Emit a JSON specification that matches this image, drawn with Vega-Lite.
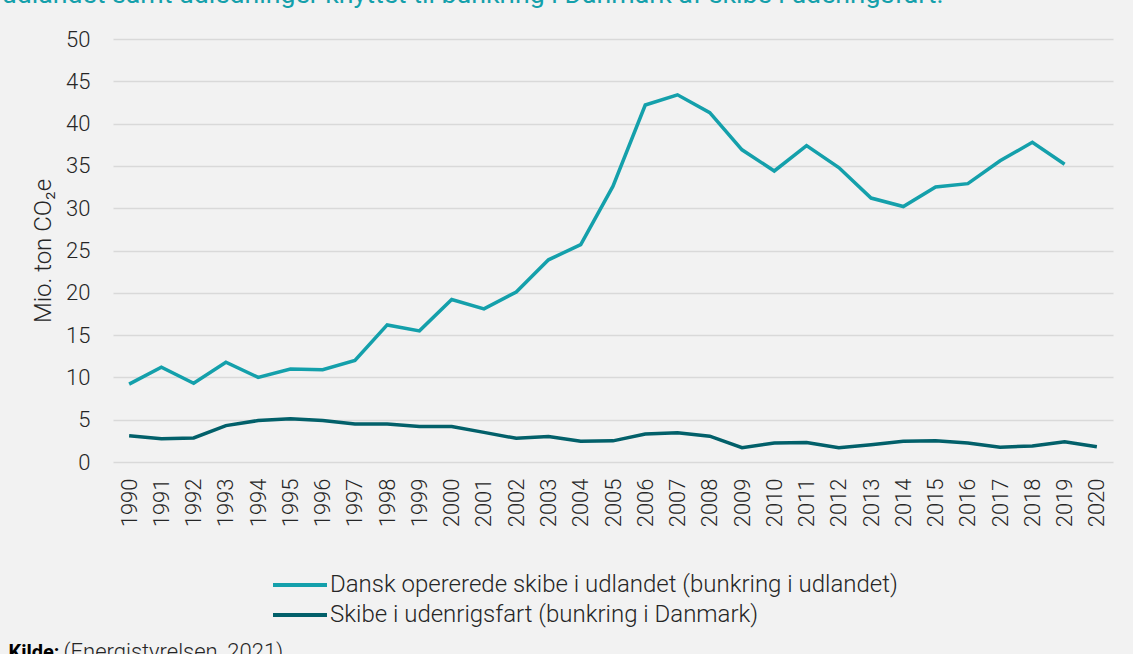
{
  "$schema": "https://vega.github.io/schema/vega-lite/v6.json",
  "width": 1000,
  "height": 423,
  "autosize": {"type": "none"},
  "padding": {"left": 113, "top": 39, "right": 20, "bottom": 192},
  "background": "#f2f2f2",
  "title": {
    "text": "udlandet samt udledninger knyttet til bunkring i Danmark af skibe i udenrigsfart.",
    "orient": "top",
    "anchor": "start",
    "frame": "group",
    "color": "#14a0ab",
    "font": "Roboto",
    "fontSize": 26.7,
    "fontWeight": 400,
    "baseline": "alphabetic",
    "offset": 0,
    "dx": -111,
    "dy": 2
  },
  "config": {
    "view": {"stroke": null},
    "axis": {"labelFont": "Roboto", "titleFont": "Roboto"},
    "legend": {"labelFont": "Roboto"}
  },
  "data": {
    "values": [
      {"year": "1990", "series": "Dansk opererede skibe i udlandet (bunkring i udlandet)", "value": 9.2},
      {"year": "1991", "series": "Dansk opererede skibe i udlandet (bunkring i udlandet)", "value": 11.2},
      {"year": "1992", "series": "Dansk opererede skibe i udlandet (bunkring i udlandet)", "value": 9.3},
      {"year": "1993", "series": "Dansk opererede skibe i udlandet (bunkring i udlandet)", "value": 11.8},
      {"year": "1994", "series": "Dansk opererede skibe i udlandet (bunkring i udlandet)", "value": 10.0},
      {"year": "1995", "series": "Dansk opererede skibe i udlandet (bunkring i udlandet)", "value": 11.0},
      {"year": "1996", "series": "Dansk opererede skibe i udlandet (bunkring i udlandet)", "value": 10.9},
      {"year": "1997", "series": "Dansk opererede skibe i udlandet (bunkring i udlandet)", "value": 12.0},
      {"year": "1998", "series": "Dansk opererede skibe i udlandet (bunkring i udlandet)", "value": 16.2},
      {"year": "1999", "series": "Dansk opererede skibe i udlandet (bunkring i udlandet)", "value": 15.5},
      {"year": "2000", "series": "Dansk opererede skibe i udlandet (bunkring i udlandet)", "value": 19.2},
      {"year": "2001", "series": "Dansk opererede skibe i udlandet (bunkring i udlandet)", "value": 18.1},
      {"year": "2002", "series": "Dansk opererede skibe i udlandet (bunkring i udlandet)", "value": 20.1},
      {"year": "2003", "series": "Dansk opererede skibe i udlandet (bunkring i udlandet)", "value": 23.9},
      {"year": "2004", "series": "Dansk opererede skibe i udlandet (bunkring i udlandet)", "value": 25.7},
      {"year": "2005", "series": "Dansk opererede skibe i udlandet (bunkring i udlandet)", "value": 32.6},
      {"year": "2006", "series": "Dansk opererede skibe i udlandet (bunkring i udlandet)", "value": 42.2},
      {"year": "2007", "series": "Dansk opererede skibe i udlandet (bunkring i udlandet)", "value": 43.4},
      {"year": "2008", "series": "Dansk opererede skibe i udlandet (bunkring i udlandet)", "value": 41.3},
      {"year": "2009", "series": "Dansk opererede skibe i udlandet (bunkring i udlandet)", "value": 36.9},
      {"year": "2010", "series": "Dansk opererede skibe i udlandet (bunkring i udlandet)", "value": 34.4},
      {"year": "2011", "series": "Dansk opererede skibe i udlandet (bunkring i udlandet)", "value": 37.4},
      {"year": "2012", "series": "Dansk opererede skibe i udlandet (bunkring i udlandet)", "value": 34.8},
      {"year": "2013", "series": "Dansk opererede skibe i udlandet (bunkring i udlandet)", "value": 31.2},
      {"year": "2014", "series": "Dansk opererede skibe i udlandet (bunkring i udlandet)", "value": 30.2},
      {"year": "2015", "series": "Dansk opererede skibe i udlandet (bunkring i udlandet)", "value": 32.5},
      {"year": "2016", "series": "Dansk opererede skibe i udlandet (bunkring i udlandet)", "value": 32.9},
      {"year": "2017", "series": "Dansk opererede skibe i udlandet (bunkring i udlandet)", "value": 35.6},
      {"year": "2018", "series": "Dansk opererede skibe i udlandet (bunkring i udlandet)", "value": 37.8},
      {"year": "2019", "series": "Dansk opererede skibe i udlandet (bunkring i udlandet)", "value": 35.2},
      {"year": "1990", "series": "Skibe i udenrigsfart (bunkring i Danmark)", "value": 3.1},
      {"year": "1991", "series": "Skibe i udenrigsfart (bunkring i Danmark)", "value": 2.75},
      {"year": "1992", "series": "Skibe i udenrigsfart (bunkring i Danmark)", "value": 2.85},
      {"year": "1993", "series": "Skibe i udenrigsfart (bunkring i Danmark)", "value": 4.3},
      {"year": "1994", "series": "Skibe i udenrigsfart (bunkring i Danmark)", "value": 4.9},
      {"year": "1995", "series": "Skibe i udenrigsfart (bunkring i Danmark)", "value": 5.1},
      {"year": "1996", "series": "Skibe i udenrigsfart (bunkring i Danmark)", "value": 4.9},
      {"year": "1997", "series": "Skibe i udenrigsfart (bunkring i Danmark)", "value": 4.5},
      {"year": "1998", "series": "Skibe i udenrigsfart (bunkring i Danmark)", "value": 4.5},
      {"year": "1999", "series": "Skibe i udenrigsfart (bunkring i Danmark)", "value": 4.2},
      {"year": "2000", "series": "Skibe i udenrigsfart (bunkring i Danmark)", "value": 4.2},
      {"year": "2001", "series": "Skibe i udenrigsfart (bunkring i Danmark)", "value": 3.5},
      {"year": "2002", "series": "Skibe i udenrigsfart (bunkring i Danmark)", "value": 2.8},
      {"year": "2003", "series": "Skibe i udenrigsfart (bunkring i Danmark)", "value": 3.0},
      {"year": "2004", "series": "Skibe i udenrigsfart (bunkring i Danmark)", "value": 2.45},
      {"year": "2005", "series": "Skibe i udenrigsfart (bunkring i Danmark)", "value": 2.5},
      {"year": "2006", "series": "Skibe i udenrigsfart (bunkring i Danmark)", "value": 3.3},
      {"year": "2007", "series": "Skibe i udenrigsfart (bunkring i Danmark)", "value": 3.45},
      {"year": "2008", "series": "Skibe i udenrigsfart (bunkring i Danmark)", "value": 3.05},
      {"year": "2009", "series": "Skibe i udenrigsfart (bunkring i Danmark)", "value": 1.7},
      {"year": "2010", "series": "Skibe i udenrigsfart (bunkring i Danmark)", "value": 2.25},
      {"year": "2011", "series": "Skibe i udenrigsfart (bunkring i Danmark)", "value": 2.3},
      {"year": "2012", "series": "Skibe i udenrigsfart (bunkring i Danmark)", "value": 1.7},
      {"year": "2013", "series": "Skibe i udenrigsfart (bunkring i Danmark)", "value": 2.05},
      {"year": "2014", "series": "Skibe i udenrigsfart (bunkring i Danmark)", "value": 2.45},
      {"year": "2015", "series": "Skibe i udenrigsfart (bunkring i Danmark)", "value": 2.5},
      {"year": "2016", "series": "Skibe i udenrigsfart (bunkring i Danmark)", "value": 2.25},
      {"year": "2017", "series": "Skibe i udenrigsfart (bunkring i Danmark)", "value": 1.75},
      {"year": "2018", "series": "Skibe i udenrigsfart (bunkring i Danmark)", "value": 1.9},
      {"year": "2019", "series": "Skibe i udenrigsfart (bunkring i Danmark)", "value": 2.4},
      {"year": "2020", "series": "Skibe i udenrigsfart (bunkring i Danmark)", "value": 1.8}
    ]
  },
  "encoding": {
    "y": {
      "field": "value",
      "type": "quantitative",
      "scale": {"domain": [0, 50], "nice": false},
      "axis": {
        "values": [0, 5, 10, 15, 20, 25, 30, 35, 40, 45, 50],
        "grid": true,
        "gridColor": "#d9d9d9",
        "gridWidth": 1.5,
        "ticks": false,
        "domain": false,
        "labelPadding": 23,
        "labelFontSize": 22,
        "labelFontWeight": 300,
        "labelColor": "#262626",
        "title": "Mio. ton CO₂e",
        "titleFontSize": 24,
        "titleFontWeight": 300,
        "titleColor": "#262626",
        "titlePadding": 10
      }
    },
    "color": {
      "field": "series",
      "type": "nominal",
      "scale": {
        "domain": ["Dansk opererede skibe i udlandet (bunkring i udlandet)", "Skibe i udenrigsfart (bunkring i Danmark)"],
        "range": ["#14a0ab", "#02606a"]
      },
      "legend": {
        "orient": "none",
        "legendX": 158,
        "legendY": 531,
        "direction": "vertical",
        "title": null,
        "symbolType": "stroke",
        "symbolSize": 2916,
        "symbolStrokeWidth": 4,
        "clipHeight": 30,
        "rowPadding": 0,
        "padding": 0,
        "labelOffset": 1,
        "labelFontSize": 24,
        "labelFontWeight": 300,
        "labelColor": "#262626",
        "labelLimit": 800
      }
    }
  },
  "layer": [
    {
      "transform": [{"filter": {"field": "series", "equal": "Dansk opererede skibe i udlandet (bunkring i udlandet)"}}],
      "mark": {"type": "line", "strokeWidth": 3.5},
      "encoding": {
        "x": {
          "field": "year",
          "type": "ordinal",
          "axis": {
            "orient": "bottom",
            "labelAngle": -90,
            "labelFontSize": 22,
            "labelFontWeight": 300,
            "labelColor": "#262626",
            "labelPadding": 16,
            "ticks": false,
            "domain": false,
            "grid": false,
            "title": "Kilde:",
            "titleFontSize": 20,
            "titleFontWeight": "bold",
            "titleColor": "#000000",
            "titleX": -105,
            "titleY": 196,
            "titleAlign": "left",
            "titleAnchor": "start",
            "titleBaseline": "alphabetic"
          }
        }
      }
    },
    {
      "transform": [{"filter": {"field": "series", "equal": "Skibe i udenrigsfart (bunkring i Danmark)"}}],
      "mark": {"type": "line", "strokeWidth": 3.5},
      "encoding": {
        "x": {
          "field": "year",
          "type": "ordinal",
          "axis": {
            "orient": "top",
            "labels": false,
            "ticks": false,
            "domain": false,
            "grid": false,
            "title": "(Energistyrelsen, 2021)",
            "titleFont": "Roboto",
            "titleFontSize": 22,
            "titleFontWeight": 300,
            "titleColor": "#262626",
            "titleX": -50,
            "titleY": 619,
            "titleAlign": "left",
            "titleAnchor": "start",
            "titleBaseline": "alphabetic"
          }
        }
      }
    }
  ],
  "resolve": {"axis": {"x": "independent"}}
}
